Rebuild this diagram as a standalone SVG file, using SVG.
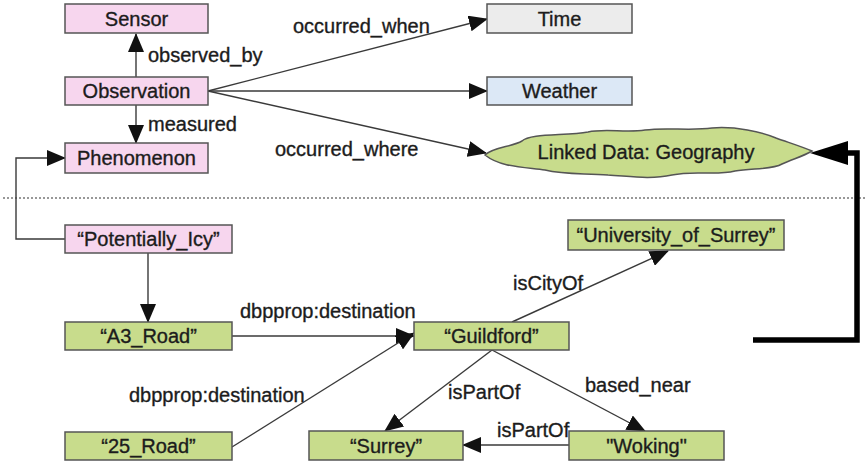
<svg xmlns="http://www.w3.org/2000/svg" width="867" height="465" viewBox="0 0 867 465">
  <style>
    text { font-family: "Liberation Sans", Arial, sans-serif; font-size: 20px; fill: #1c1c1c; stroke: #1c1c1c; stroke-width: 0.35px; }
    .c { text-anchor: middle; }
    .box { stroke: #555; stroke-width: 1.5; }
    .pink { fill: #f7d6ee; }
    .green { fill: #c8dc8c; }
    .grey { fill: #ececec; }
    .blue { fill: #dce8f6; }
    .edge { fill: none; stroke: #3a3a3a; stroke-width: 1.4; }
  </style>
  <defs>
    <marker id="arrow" markerUnits="userSpaceOnUse" markerWidth="20" markerHeight="16" refX="18" refY="8" orient="auto">
      <path d="M0,0 L19,8 L0,16 Z" fill="#111"/>
    </marker>
  </defs>
  <rect width="867" height="465" fill="#fff"/>

  <!-- separator between the observation model and the linked data -->
  <line x1="3" y1="198" x2="867" y2="198" stroke="#777" stroke-width="1.5" stroke-dasharray="2,2"/>

  <g id="connectors">
    <line class="edge" x1="136" y1="77" x2="136" y2="34" marker-end="url(#arrow)"/>
    <line class="edge" x1="136" y1="105" x2="136" y2="143" marker-end="url(#arrow)"/>
    <line class="edge" x1="208" y1="91" x2="487" y2="19" marker-end="url(#arrow)"/>
    <line class="edge" x1="208" y1="91" x2="487" y2="91" marker-end="url(#arrow)"/>
    <line class="edge" x1="208" y1="91" x2="486" y2="153" marker-end="url(#arrow)"/>
    <polyline class="edge" points="65,239 16,239 16,158 65,158" marker-end="url(#arrow)"/>
    <line class="edge" x1="148" y1="253" x2="148" y2="322" marker-end="url(#arrow)"/>
    <line class="edge" x1="232" y1="336" x2="414" y2="336" marker-end="url(#arrow)"/>
    <line class="edge" x1="232" y1="447" x2="414" y2="333" marker-end="url(#arrow)"/>
    <line class="edge" x1="512" y1="322" x2="668" y2="251" marker-end="url(#arrow)"/>
    <line class="edge" x1="492" y1="350" x2="385" y2="431" marker-end="url(#arrow)"/>
    <line class="edge" x1="492" y1="350" x2="645" y2="431" marker-end="url(#arrow)"/>
    <line class="edge" x1="569" y1="445" x2="463" y2="445" marker-end="url(#arrow)"/>
    <!-- heavy link back to the geography cloud -->
    <polyline points="753,340 857,340 857,153 845,153" fill="none" stroke="#000" stroke-width="5.5"/>
    <polygon points="810,153 848,141 848,165" fill="#000"/>
  </g>

  <g id="edge-labels">
    <text x="148" y="62">observed_by</text>
    <text x="148" y="131">measured</text>
    <text x="293" y="33">occurred_when</text>
    <text x="275" y="156">occurred_where</text>
    <text x="240" y="318">dbpprop:destination</text>
    <text x="129" y="402">dbpprop:destination</text>
    <text x="513" y="290">isCityOf</text>
    <text x="448" y="399">isPartOf</text>
    <text x="585" y="392">based_near</text>
    <text x="497" y="437">isPartOf</text>
  </g>

  <g id="sensor">
    <rect class="box pink" x="65" y="4" width="143" height="29"/>
    <text class="c" x="136.5" y="25.5">Sensor</text>
  </g>
  <g id="observation">
    <rect class="box pink" x="65" y="77" width="143" height="28"/>
    <text class="c" x="136.5" y="98">Observation</text>
  </g>
  <g id="phenomenon">
    <rect class="box pink" x="65" y="143" width="143" height="30"/>
    <text class="c" x="136.5" y="165">Phenomenon</text>
  </g>
  <g id="time">
    <rect class="box grey" x="487" y="4" width="145" height="29"/>
    <text class="c" x="559.5" y="25.5">Time</text>
  </g>
  <g id="weather">
    <rect class="box blue" x="487" y="77" width="145" height="28"/>
    <text class="c" x="559.5" y="98">Weather</text>
  </g>
  <g id="geography">
    <path class="box green" d="M485,155 C493,147 512,147 522,141 C530,133 566,136 588,132 C605,128 625,133 645,130 C665,127 690,131 712,128 C735,126 762,132 776,138 C790,143 800,146 812,151 C802,157 792,159 782,164 C772,170 752,168 735,171 C715,176 695,170 672,175 C650,180 628,176 608,175 C585,173 565,175 545,170 C522,167 500,167 485,155 Z"/>
    <text class="c" x="646" y="159">Linked Data: Geography</text>
  </g>
  <g id="potentially-icy">
    <rect class="box pink" x="65" y="225" width="167" height="28"/>
    <text class="c" x="148.5" y="246">“Potentially_Icy”</text>
  </g>
  <g id="university-of-surrey">
    <rect class="box green" x="568" y="220" width="216" height="30"/>
    <text class="c" x="676" y="242">“University_of_Surrey”</text>
  </g>
  <g id="a3-road">
    <rect class="box green" x="65" y="322" width="167" height="28"/>
    <text class="c" x="148.5" y="343">“A3_Road”</text>
  </g>
  <g id="guildford">
    <rect class="box green" x="414" y="322" width="155" height="28"/>
    <text class="c" x="491.5" y="343">“Guildford”</text>
  </g>
  <g id="road-25">
    <rect class="box green" x="65" y="432" width="167" height="28"/>
    <text class="c" x="148.5" y="453">“25_Road”</text>
  </g>
  <g id="surrey">
    <rect class="box green" x="309" y="431" width="154" height="29"/>
    <text class="c" x="386" y="452.5">“Surrey”</text>
  </g>
  <g id="woking">
    <rect class="box green" x="569" y="431" width="155" height="29"/>
    <text class="c" x="646.5" y="452.5">"Woking"</text>
  </g>
</svg>
